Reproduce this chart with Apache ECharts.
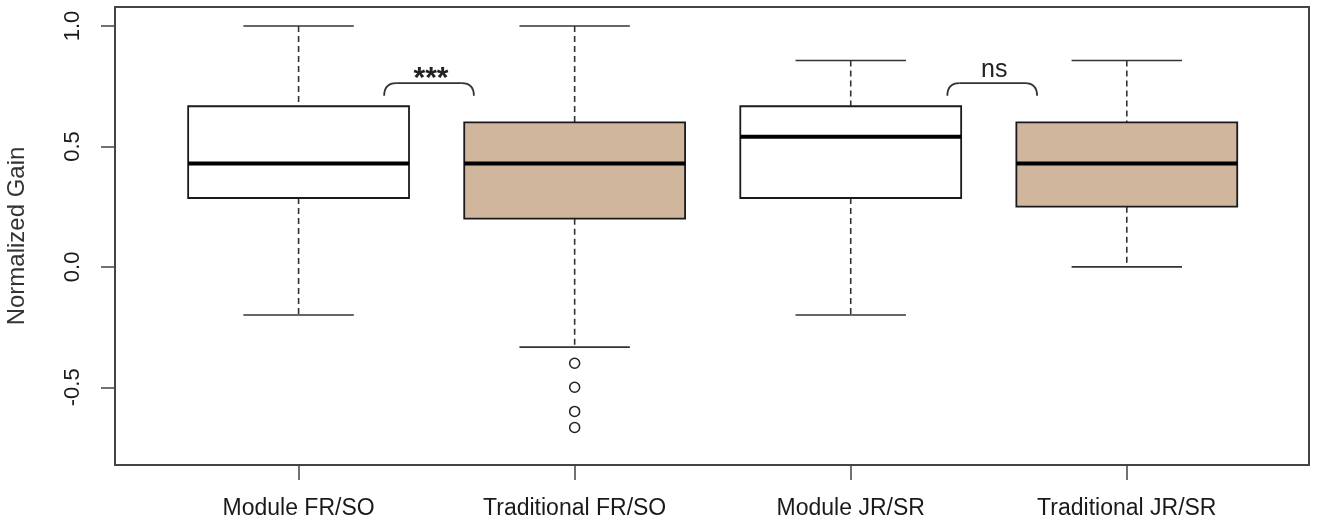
<!DOCTYPE html>
<html>
<head>
<meta charset="utf-8">
<script src="https://cdn.jsdelivr.net/npm/echarts@6/dist/echarts.min.js"></script>
<style>
  html, body { margin: 0; padding: 0; background: #fff; }
  #chart { width: 1319px; height: 525px; }
</style>
</head>
<body>
<div id="chart"></div>
<script>
var categories = ["Module FR/SO", "Traditional FR/SO", "Module JR/SR", "Traditional JR/SR"];
var lowerWhisker = [-0.2, -0.333, -0.2, 0.0];
var lowerQuartile = [0.286, 0.2, 0.286, 0.25];
var medians = [0.429, 0.429, 0.54, 0.429];
var upperQuartile = [0.667, 0.6, 0.667, 0.6];
var upperWhisker = [1.0, 1.0, 0.857, 0.857];
var boxFill = ["#ffffff", "#cfb69c", "#ffffff", "#cfb69c"];
// outliers as [group position, value]
var outliers = [[2, -0.4], [2, -0.5], [2, -0.6], [2, -0.667]];
// significance brackets: start, end, top y, foot y, label
var bracketStart = [1.31, 3.35];
var bracketEnd = [1.635, 3.675];
var bracketTop = [0.763, 0.763];
var bracketFoot = [0.71, 0.71];
var bracketLabels = ["***", "ns"];
var yTicks = [-0.5, 0, 0.5, 1.0];

var boxData = categories.map(function (c, i) {
  return [i + 1, lowerWhisker[i], lowerQuartile[i], medians[i], upperQuartile[i], upperWhisker[i]];
});
var bracketData = bracketLabels.map(function (l, i) {
  return [bracketStart[i], bracketEnd[i], bracketTop[i], bracketFoot[i], l];
});

var chart = echarts.init(document.getElementById("chart"));

function renderBox(params, api) {
  var x = api.value(0);
  var halfBox = 0.4, halfCap = 0.2;
  var pLow = api.coord([x, api.value(1)]);
  var pQ1 = api.coord([x, api.value(2)]);
  var pMed = api.coord([x, api.value(3)]);
  var pQ3 = api.coord([x, api.value(4)]);
  var pHigh = api.coord([x, api.value(5)]);
  var left = api.coord([x - halfBox, 0])[0];
  var right = api.coord([x + halfBox, 0])[0];
  var capL = api.coord([x - halfCap, 0])[0];
  var capR = api.coord([x + halfCap, 0])[0];
  var cx = pMed[0];
  var dashStyle = { stroke: "#333", lineWidth: 1.6, lineDash: [6, 4] };
  var capStyle = { stroke: "#333", lineWidth: 1.6 };
  return {
    type: "group",
    children: [
      { type: "line", shape: { x1: cx, y1: pHigh[1], x2: cx, y2: pQ3[1] }, style: dashStyle },
      { type: "line", shape: { x1: cx, y1: pQ1[1], x2: cx, y2: pLow[1] }, style: dashStyle },
      { type: "line", shape: { x1: capL, y1: pHigh[1], x2: capR, y2: pHigh[1] }, style: capStyle },
      { type: "line", shape: { x1: capL, y1: pLow[1], x2: capR, y2: pLow[1] }, style: capStyle },
      {
        type: "rect",
        shape: { x: left, y: pQ3[1], width: right - left, height: pQ1[1] - pQ3[1] },
        style: { fill: boxFill[params.dataIndex], stroke: "#1a1a1a", lineWidth: 1.8 }
      },
      { type: "line", shape: { x1: left, y1: pMed[1], x2: right, y2: pMed[1] }, style: { stroke: "#000", lineWidth: 4 } }
    ]
  };
}

function renderBracket(params, api) {
  var a = api.coord([api.value(0), api.value(2)]);
  var b = api.coord([api.value(1), api.value(2)]);
  var footY = api.coord([api.value(0), api.value(3)])[1];
  var r = 12;
  var st = { stroke: "#333", lineWidth: 1.8, fill: null };
  var label = bracketLabels[params.dataIndex];
  var isStars = label.indexOf("*") >= 0;
  return {
    type: "group",
    children: [
      { type: "bezierCurve", shape: { x1: a[0], y1: footY, cpx1: a[0], cpy1: a[1], x2: a[0] + r, y2: a[1] }, style: st },
      { type: "line", shape: { x1: a[0] + r, y1: a[1], x2: b[0] - r, y2: b[1] }, style: st },
      { type: "bezierCurve", shape: { x1: b[0] - r, y1: b[1], cpx1: b[0], cpy1: b[1], x2: b[0], y2: footY }, style: st },
      {
        type: "text",
        style: {
          text: label,
          x: (a[0] + b[0]) / 2 + 2,
          y: isStars ? a[1] - 4 : a[1] - 13,
          align: "center",
          verticalAlign: "middle",
          fill: "#222",
          font: (isStars ? "bold 30px" : "25px") + " 'Liberation Sans', Arial, sans-serif"
        }
      }
    ]
  };
}

var option = {
  animation: false,
  backgroundColor: "#ffffff",
  grid: {
    left: 115, right: 10, top: 7, bottom: 60,
    outerBoundsMode: "none",
    containLabel: false,
    show: true, borderColor: "#444", borderWidth: 2, backgroundColor: "transparent"
  },
  xAxis: {
    type: "value",
    min: 0.335,
    max: 4.66,
    splitLine: { show: false },
    axisLine: { show: false, onZero: false },
    axisTick: { show: true, customValues: [1, 2, 3, 4], length: 15, lineStyle: { color: "#444", width: 1.5 } },
    axisLabel: {
      customValues: [1, 2, 3, 4],
      margin: 32,
      color: "#1a1a1a",
      fontSize: 23,
      fontFamily: "'Liberation Sans', Arial, sans-serif",
      formatter: function (v) { return categories[Math.round(v) - 1]; }
    }
  },
  yAxis: {
    type: "value",
    min: -0.8226,
    max: 1.079,
    name: "Normalized Gain",
    nameLocation: "middle",
    nameGap: 86,
    nameRotate: 90,
    nameMoveOverlap: false,
    nameTextStyle: { fontSize: 24, color: "#333", fontFamily: "'Liberation Sans', Arial, sans-serif" },
    splitLine: { show: false },
    axisLine: { show: false, onZero: false },
    axisTick: { show: true, customValues: yTicks, length: 14, lineStyle: { color: "#444", width: 1.5 } },
    axisLabel: {
      customValues: yTicks,
      rotate: 90,
      margin: 31,
      color: "#1a1a1a",
      fontSize: 22,
      fontFamily: "'Liberation Sans', Arial, sans-serif",
      formatter: function (v) { return v.toFixed(1); }
    }
  },
  series: [
    {
      type: "custom",
      renderItem: renderBox,
      encode: { x: 0, y: [1, 2, 3, 4, 5] },
      data: boxData,
      z: 2
    },
    {
      type: "scatter",
      data: outliers,
      symbol: "circle",
      symbolSize: 10,
      itemStyle: { color: "#ffffff", borderColor: "#222", borderWidth: 1.5, opacity: 1 },
      z: 3
    },
    {
      type: "custom",
      renderItem: renderBracket,
      encode: { x: [0, 1], y: [2, 3] },
      data: bracketData,
      z: 4
    }
  ]
};
chart.setOption(option);
</script>
</body>
</html>
